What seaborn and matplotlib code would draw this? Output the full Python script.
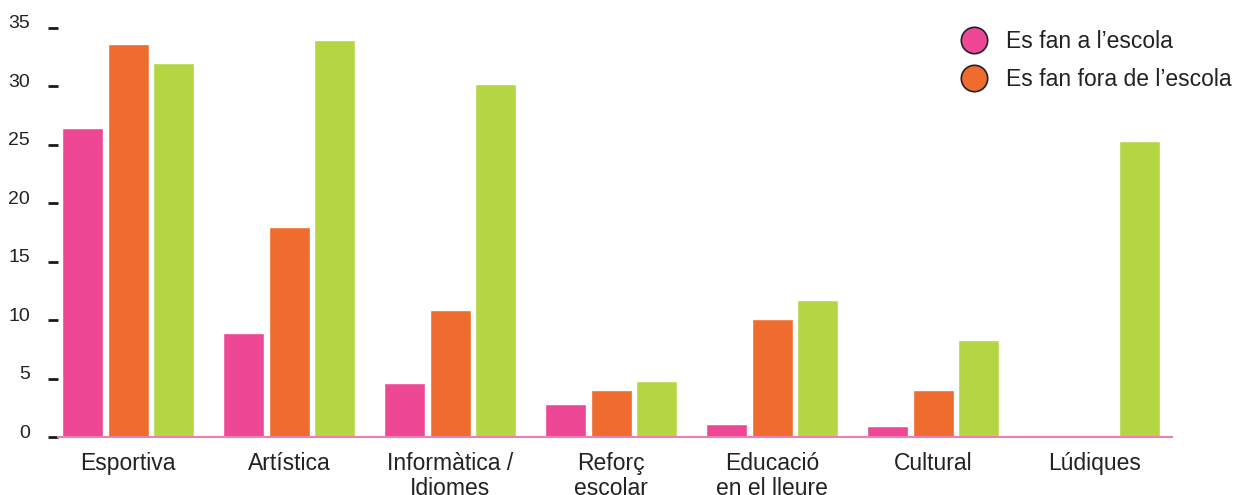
import pandas as pd
import matplotlib
matplotlib.use("Agg")
import matplotlib.pyplot as plt
import matplotlib.transforms as mtransforms
from matplotlib.lines import Line2D
import seaborn as sns

# activities and the three series
categories = ["Esportiva", "Artística", "Informàtica /\nIdiomes", "Reforç\nescolar",
              "Educació\nen el lleure", "Cultural", "Lúdiques"]
series_names = ["Es fan a l’escola", "Es fan fora de l’escola", "Total"]
at_school = [26.4, 8.9, 4.6, 2.8, 1.1, 0.95, 0.0]
outside_school = [33.6, 18.0, 10.9, 4.0, 10.1, 4.0, 0.0]
total = [32.0, 34.0, 30.2, 4.8, 11.7, 8.3, 25.3]
y_ticks = [0, 5, 10, 15, 20, 25, 30, 35]

colors = ["#EE4795", "#EE6C2D", "#B5D643"]

rows = []
for name, vals in zip(series_names, [at_school, outside_school, total]):
    for cat, v in zip(categories, vals):
        rows.append({"activitat": cat, "serie": name, "valor": v})
df = pd.DataFrame(rows)

sns.set_style("white")
plt.rcParams["font.family"] = ["Liberation Sans", "DejaVu Sans"]

fig = plt.figure(figsize=(12.34, 4.95), dpi=100)
ax = fig.add_axes([58 / 1234, 1 - 437 / 495, (1172 - 58) / 1234, (437 - 28) / 495])

sns.barplot(data=df, x="activitat", y="valor", hue="serie", palette=colors,
            width=0.85, gap=0.1, saturation=1, legend=False, ax=ax)

ax.set_xlim(-0.435, 6.484)
ax.set_ylim(0, 35)
ax.set_yticks(y_ticks)
ax.set_xlabel("")
ax.set_ylabel("")

for side in ["top", "right", "left"]:
    ax.spines[side].set_visible(False)
ax.spines["bottom"].set_color("#F27DB2")
ax.spines["bottom"].set_linewidth(1.5)

ax.tick_params(axis="y", left=True, direction="out", length=7.2, width=2,
               color="#1a1a1a", pad=13, labelsize=14, labelcolor="#222222")
ax.tick_params(axis="x", bottom=False, length=0, pad=10.5, labelsize=16.5,
               labelcolor="#222222")
for lab in ax.get_xticklabels():
    lab.set_linespacing(1.12)

offset = mtransforms.ScaledTranslation(0, 0.06, fig.dpi_scale_trans)
for lab in ax.get_yticklabels():
    lab.set_transform(lab.get_transform() + offset)

handles = [Line2D([], [], marker="o", linestyle="", markersize=19,
                  markerfacecolor=c, markeredgecolor="#222222", markeredgewidth=1.2)
           for c in colors[:2]]
fig.legend(handles, series_names[:2], loc="upper right",
           bbox_to_anchor=(1232 / 1234, 1 - 30 / 495), frameon=False,
           fontsize=16.5, handletextpad=0.4, labelspacing=0.67,
           borderpad=0, borderaxespad=0, labelcolor="#222222")

fig.savefig("out.png", dpi=100)
